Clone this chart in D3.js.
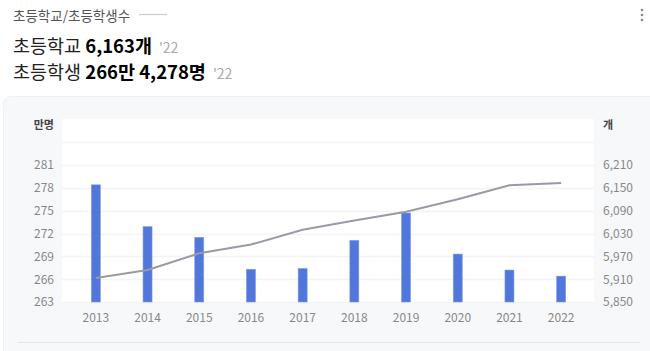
<!DOCTYPE html>
<html>
<head>
<meta charset="utf-8">
<script src="https://cdn.jsdelivr.net/npm/d3@7"></script>
<style>
  body { margin: 0; background: #fff; font-family: "Noto Sans CJK KR", "Noto Sans", sans-serif; }
  svg { display: block; }
</style>
</head>
<body>
<svg id="chart" width="650" height="351"></svg>
<script>
// data
const years = ["2013", "2014", "2015", "2016", "2017", "2018", "2019", "2020", "2021", "2022"];
const students = [278.4, 272.9, 271.5, 267.3, 267.4, 271.1, 274.7, 269.3, 267.2, 266.4]; // 만명
const schools = [5913, 5934, 5978, 6001, 6040, 6064, 6087, 6120, 6157, 6163]; // 개
const leftTicks = [263, 266, 269, 272, 275, 278, 281, 284];
const rightTicks = [5850, 5910, 5970, 6030, 6090, 6150, 6210, 6270];

const svg = d3.select("#chart");
const font = "'Noto Sans CJK KR', 'Noto Sans', sans-serif";

// header
svg.append("text")
  .attr("x", 13).attr("y", 21)
  .style("font-size", "13.5px").style("fill", "#555")
  .style("font-family", font)
  .text("초등학교/초등학생수");
svg.append("line")
  .attr("x1", 139).attr("x2", 167).attr("y1", 14.5).attr("y2", 14.5)
  .attr("stroke", "#ccc").attr("stroke-width", 1.2);

// menu dots
[10, 15, 20].forEach(cy => {
  svg.append("circle").attr("cx", 642).attr("cy", cy).attr("r", 1.3).attr("fill", "#888");
});

function headline(y, label, value, year) {
  const t = svg.append("text").attr("x", 13).attr("y", y)
    .style("font-family", font).style("fill", "#222");
  t.append("tspan").style("font-size", "18.5px").text(label + " ");
  t.append("tspan").style("font-size", "18.5px").style("font-weight", "bold").style("fill", "#000").text(value);
  t.append("tspan").attr("dx", 7).style("font-size", "14px").style("fill", "#aaa").text(year);
}
headline(53, "초등학교", "6,163개", "'22");
headline(79, "초등학생", "266만 4,278명", "'22");

// card
svg.append("rect")
  .attr("x", 3.5).attr("y", 96.5).attr("width", 660).attr("height", 270)
  .attr("rx", 8).attr("fill", "#f7f8fa").attr("stroke", "#eef0f3");
svg.append("line")
  .attr("x1", 18).attr("x2", 640).attr("y1", 342.5).attr("y2", 342.5)
  .attr("stroke", "#e4e6ea");

const plot = { left: 62, right: 594, top: 119, bottom: 303 };
svg.append("rect")
  .attr("x", plot.left).attr("y", plot.top)
  .attr("width", plot.right - plot.left).attr("height", plot.bottom - plot.top)
  .attr("fill", "#fff");

const yL = d3.scaleLinear().domain([263, 287]).range([302, 119.4]);
const yR = d3.scaleLinear().domain([5850, 6330]).range([302, 119.4]);
const x = d3.scaleBand().domain(years).range([70, 587]).padding(0);

// gridlines
svg.append("g").selectAll("line").data(leftTicks).join("line")
  .attr("x1", plot.left).attr("x2", plot.right)
  .attr("y1", d => Math.round(yL(d)) + 0.5).attr("y2", d => Math.round(yL(d)) + 0.5)
  .attr("stroke", "#f3f4f7").attr("stroke-width", 1.5);

// left axis
const left = svg.append("g").attr("transform", `translate(${plot.left},0)`)
  .call(d3.axisLeft(yL).tickValues(leftTicks.slice(0, 7)).tickSize(0).tickPadding(8));
left.select(".domain").remove();
left.selectAll("text").style("font-size", "12px").style("fill", "#888").style("font-family", font);

// right axis
const right = svg.append("g").attr("transform", `translate(${plot.right},0)`)
  .call(d3.axisRight(yR).tickValues(rightTicks.slice(0, 7)).tickFormat(d3.format(",")).tickSize(0).tickPadding(9));
right.select(".domain").remove();
right.selectAll("text").style("font-size", "12px").style("fill", "#888").style("font-family", font);

// bottom axis
const bottom = svg.append("g").attr("transform", `translate(0,${plot.bottom})`)
  .call(d3.axisBottom(x).tickSize(0).tickPadding(10));
bottom.select(".domain").remove();
bottom.selectAll("text").style("font-size", "12px").style("fill", "#888").style("font-family", font);

// unit labels
svg.append("text").attr("x", 54).attr("y", 129).attr("text-anchor", "end")
  .style("font-size", "11px").style("font-weight", "bold").style("fill", "#444").style("font-family", font)
  .text("만명");
svg.append("text").attr("x", 603).attr("y", 129)
  .style("font-size", "11px").style("font-weight", "bold").style("fill", "#444").style("font-family", font)
  .text("개");

// bars
const bw = 9;
svg.append("g").selectAll("rect").data(students).join("rect")
  .attr("x", (d, i) => x(years[i]) + x.bandwidth() / 2 - bw / 2)
  .attr("y", d => yL(d))
  .attr("width", bw)
  .attr("height", d => yL(263) - yL(d))
  .attr("fill", "#5177db")
  .attr("stroke", "#7f9be8").attr("stroke-width", 0.6);

// line
const line = d3.line()
  .x((d, i) => x(years[i]) + x.bandwidth() / 2)
  .y(d => yR(d));
svg.append("path").datum(schools)
  .attr("d", line)
  .attr("fill", "none")
  .attr("stroke", "#9a9aa6")
  .attr("stroke-width", 2);
</script>
</body>
</html>
